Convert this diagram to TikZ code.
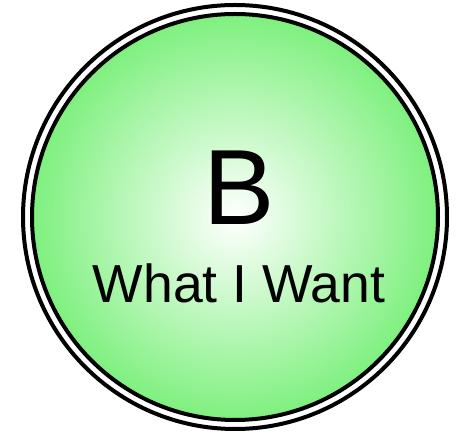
\documentclass[tikz,border=0pt]{standalone}
\usepackage{fontspec}
\setmainfont{Liberation Sans}
\usepackage{xcolor}
\usetikzlibrary{positioning}
\definecolor{leaf}{HTML}{7EF07E}
\tikzset{ring/.style={draw=black,line width=4pt,circle,inner sep=0pt},
  goal/.style={ring,shade,inner color=white,outer color=leaf,
    shading=radial},
  letter/.style={font=\fontsize{107}{107}\selectfont,inner sep=0pt},
  caption/.style={font=\fontsize{53.5}{53.5}\selectfont,inner sep=0pt}}

\begin{document}
\begin{tikzpicture}[x=1pt,y=1pt]
\useasboundingbox (0,0) rectangle (461,436);
\node[ring,fill=white,minimum size=424pt] (rim) at (235,219) {};
\node[goal,minimum size=406pt] (disk) at (235,219) {};
\node[letter,anchor=base] (b) at (239,211) {B};
\node[caption,anchor=base] (want) at (239,133) {What I Want};
\end{tikzpicture}
\end{document}
